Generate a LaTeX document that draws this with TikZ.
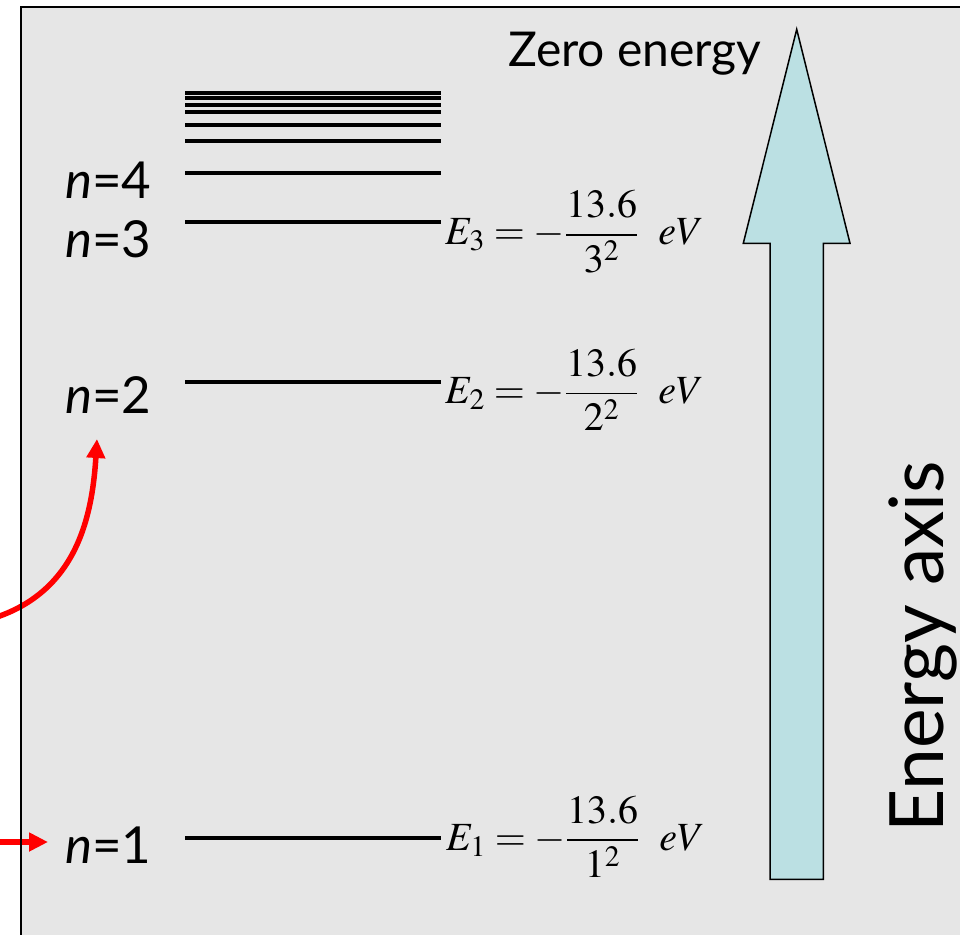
\documentclass[tikz,border=0pt]{standalone}
\usepackage{mathptmx}
\usepackage{fontspec}
\newfontfamily\lbl{Lato}
\usetikzlibrary{arrows.meta}
\definecolor{panel}{RGB}{230,230,230}
\definecolor{axisfill}{RGB}{187,224,227}
\begin{document}
\begin{tikzpicture}[x=1pt,y=-1pt,
  level/.style={line width=4pt},
  nlabel/.style={anchor=base west,inner sep=0pt,font=\lbl\fontsize{51}{56}\selectfont},
  eqn/.style={anchor=west,inner sep=0pt,font=\fontsize{40}{44}\selectfont},
  redarrow/.style={draw=red,line width=5.5pt,-{Triangle[length=19pt,width=18pt]}}]
\useasboundingbox (0,0) rectangle (960,934);
\fill[white] (0,0) rectangle (960,934);
\fill[panel] (20.7,7.3) rectangle (965,940);
% red arrows
\coordinate (src1) at (-3,617);
\coordinate (tip1) at (97,439);
\draw[redarrow] (src1) .. controls (75,590) and (92,520) .. (tip1);
\coordinate (src2) at (-3,842);
\coordinate (tip2) at (48,842);
\draw[redarrow] (src2) -- (tip2);
\draw[line width=2pt] (20.7,7.3) rectangle (965,940);
% energy levels
\foreach \yy in {92.7,98,105,112,124.7,140.7,172.7,221.7,381.7,838.3}
  \draw[level] (185,\yy) -- (441,\yy);
% labels
\node[nlabel] (n4) at (65,198) {{\itshape n}=4};
\node[nlabel] (n3) at (65,257.7) {{\itshape n}=3};
\node[nlabel] (n2) at (65,413) {{\itshape n}=2};
\node[nlabel] (n1) at (65,863) {{\itshape n}=1};
% equations
\node[eqn] (e3) at (445,231.7) {$E_3 = -\displaystyle\frac{13.6}{3^2}\enspace eV$};
\node[eqn] (e2) at (445,390) {$E_2 = -\displaystyle\frac{13.6}{2^2}\enspace eV$};
\node[eqn] (e1) at (446,836.7) {$E_1 = -\displaystyle\frac{13.6}{1^2}\enspace eV$};
% energy axis arrow
\draw[fill=axisfill,line width=1.5pt,line join=miter] (796.7,29.3) -- (850,243.3) -- (823.3,243.3) -- (823.3,879.3) -- (770,879.3) -- (770,243.3) -- (743.3,243.3) -- cycle;
\node[anchor=base west,inner sep=0pt,font=\lbl\fontsize{48}{52}\selectfont] (zero) at (508,66.7) {Zero energy};
\node[rotate=90,anchor=base west,inner sep=0pt,font=\lbl\fontsize{75}{80}\selectfont] (axislbl) at (943,833) {Energy axis};
\end{tikzpicture}
\end{document}
